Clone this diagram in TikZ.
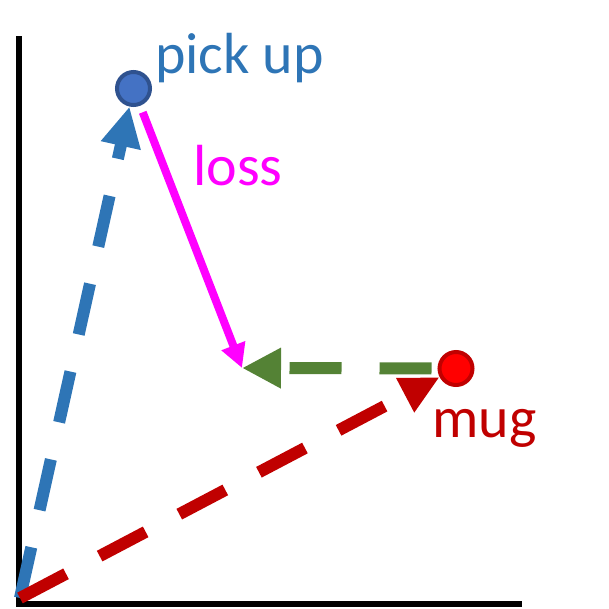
\documentclass[tikz,border=0pt]{standalone}
\usepackage{fontspec}
\setmainfont{Carlito}
\usetikzlibrary{arrows.meta}

\definecolor{vecblue}{HTML}{2E75B6}
\definecolor{dotblue}{HTML}{4472C4}
\definecolor{rimblue}{HTML}{2F528F}
\definecolor{vecred}{HTML}{C00000}
\definecolor{vecgreen}{HTML}{548235}
\definecolor{lossmag}{HTML}{FF00FF}

\begin{document}
\begin{tikzpicture}[x=1pt,y=-1pt,
  vec/.style={line width=12pt,dash pattern=on 52pt off 38pt},
  dot/.style={circle,minimum size=33pt,inner sep=0pt,line width=4pt,draw},
  lbl/.style={anchor=base west,inner sep=0pt,font=\fontsize{58}{62}\selectfont}]
  \useasboundingbox (0,0) rectangle (609,608);
  \draw[line width=6pt] (19,36) -- (19,604) -- (522,604);
  \coordinate (origin) at (20,598);
  \coordinate (target) at (242,368);
  \node[dot,fill=dotblue,draw=rimblue] (pickup) at (133.5,88.5) {};
  \node[dot,fill=red,draw=vecred] (mug) at (456,368.5) {};
  \node[lbl,text=vecblue] (pickuptext) at (155,73) {pick up};
  \node[lbl,text=lossmag] (losstext) at (193,185) {loss};
  \node[lbl,text=vecred] (mugtext) at (432,437) {mug};
  \draw[vec,vecblue,-{Triangle[length=40pt,width=38pt]}] (origin) -- (pickup);
  \draw[vec,vecred,-{Triangle[length=39pt,width=36pt]}] (origin) -- (mug);
  \draw[vec,vecgreen,shorten <=6pt,-{Triangle[length=39pt,width=38pt]}] (mug) -- (target);
  \draw[line width=8pt,lossmag,shorten <=7pt,-{Triangle[length=24pt,width=24pt]}] (pickup) -- (target);
\end{tikzpicture}
\end{document}
